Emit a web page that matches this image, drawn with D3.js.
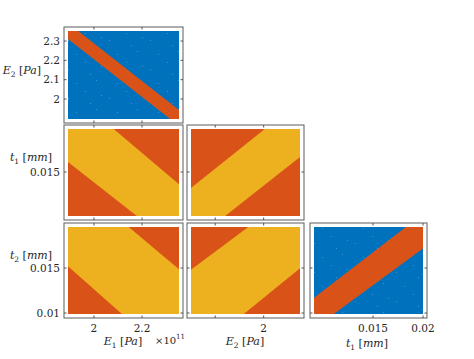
<!DOCTYPE html>
<html>
<head>
<meta charset="utf-8">
<script src="https://cdn.jsdelivr.net/npm/d3@7"></script>
<style>
  html, body { margin: 0; padding: 0; background: #fff; }
  svg { display: block; }
</style>
</head>
<body>
<svg id="chart" width="474" height="359"></svg>
<script>
// ---------- data ----------
// axis domains (data extents) for each variable, as seen in each column / row
const e1Domain     = [1.892, 2.354];    // E1 [Pa] x1e11 (column 1)
const e2RowDomain  = [1.8965, 2.352];   // E2 [Pa] (row 1)
const e2ColDomain  = [1.70, 2.15];      // E2 [Pa] (column 2)
const t1RowDomain  = [0.00988, 0.0200]; // t1 [mm] (row 2)
const t1ColDomain  = [0.0091, 0.0200];  // t1 [mm] (column 3)
const t2RowDomain  = [0.00989, 0.01956];// t2 [mm] (row 3)

// tick values and tick labels
const e1Ticks = [2.0, 2.2];                 const e1Labels = ["2", "2.2"];
const e2RowTicks = [2.0, 2.1, 2.2, 2.3];    const e2RowLabels = ["2", "2.1", "2.2", "2.3"];
const e2ColTicks = [1.8, 2.0];              const e2ColLabels = ["", "2"];
const t1RowTicks = [0.015];                 const t1RowLabels = ["0.015"];
const t1ColTicks = [0.015, 0.02];           const t1ColLabels = ["0.015", "0.02"];
const t2RowTicks = [0.01, 0.015];           const t2RowLabels = ["0.01", "0.015"];

// region boundaries (polygons in data coordinates) of the band in each panel
const bandE1E2 = [[1.880, 2.360], [1.926, 2.360], [2.360, 1.937], [2.360, 1.890], [2.324, 1.890], [1.880, 2.322]];
const bandE1T1 = [[1.880, 0.0205], [2.061, 0.0205], [2.360, 0.01343], [2.360, 0.0095], [2.196, 0.0095], [1.880, 0.01642]];
const bandE1T2 = [[1.880, 0.0200], [2.125, 0.0200], [2.360, 0.01473], [2.360, 0.0095], [2.133, 0.0095], [1.880, 0.01548]];
const bandE2T1 = [[1.69, 0.01291], [2.027, 0.0205], [2.16, 0.0205], [2.16, 0.01697], [1.824, 0.0095], [1.69, 0.0095]];
const bandE2T2 = [[1.69, 0.01460], [1.958, 0.0200], [2.16, 0.0200], [2.16, 0.01518], [1.900, 0.0095], [1.69, 0.0095]];
const bandT1T2 = [[0.0088, 0.01144], [0.0188, 0.0200], [0.0205, 0.0200], [0.0205, 0.01758], [0.0106, 0.0095], [0.0088, 0.0095]];

// ---------- layout ----------
const FONT = "DejaVu Serif, serif";
const colors = { blue: "#0072BD", orange: "#D95319", yellow: "#EDB120" };
const colX = [[68, 179], [191, 300], [314, 423]];
const rowY = [[31, 119], [129, 216], [227, 314]];
const pad = 4;

const svg = d3.select("#chart");
const defs = svg.append("defs");

// faint speckle texture of the dense scatter
const pat = defs.append("pattern").attr("id", "speck").attr("patternUnits", "userSpaceOnUse")
  .attr("width", 41).attr("height", 29);
[[3, 4], [27, 11], [14, 22], [35, 25], [19, 8], [8, 16]].forEach(d =>
  pat.append("rect").attr("x", d[0]).attr("y", d[1]).attr("width", 1).attr("height", 1)
    .attr("fill", "#ffffff").attr("fill-opacity", 0.25));

const xScales = [
  d3.scaleLinear().domain(e1Domain).range(colX[0]),
  d3.scaleLinear().domain(e2ColDomain).range(colX[1]),
  d3.scaleLinear().domain(t1ColDomain).range(colX[2])
];
const yScales = [
  d3.scaleLinear().domain(e2RowDomain).range([rowY[0][1], rowY[0][0]]),
  d3.scaleLinear().domain(t1RowDomain).range([rowY[1][1], rowY[1][0]]),
  d3.scaleLinear().domain(t2RowDomain).range([rowY[2][1], rowY[2][0]])
];
const xTicks = [[e1Ticks, e1Labels], [e2ColTicks, e2ColLabels], [t1ColTicks, t1ColLabels]];
const yTicks = [[e2RowTicks, e2RowLabels], [t1RowTicks, t1RowLabels], [t2RowTicks, t2RowLabels]];

const panels = [
  { r: 0, c: 0, bg: colors.blue,   band: bandE1E2, bandColor: colors.orange },
  { r: 1, c: 0, bg: colors.orange, band: bandE1T1, bandColor: colors.yellow },
  { r: 2, c: 0, bg: colors.orange, band: bandE1T2, bandColor: colors.yellow },
  { r: 1, c: 1, bg: colors.orange, band: bandE2T1, bandColor: colors.yellow },
  { r: 2, c: 1, bg: colors.orange, band: bandE2T2, bandColor: colors.yellow },
  { r: 2, c: 2, bg: colors.blue,   band: bandT1T2, bandColor: colors.orange }
];

panels.forEach((p, i) => {
  const xs = xScales[p.c], ys = yScales[p.r];
  const [x0, x1] = xs.range();
  const [y1, y0] = ys.range();
  const g = svg.append("g");
  const clipId = "clip" + i;
  defs.append("clipPath").attr("id", clipId)
    .append("rect").attr("x", x0).attr("y", y0).attr("width", x1 - x0).attr("height", y1 - y0);

  const data = g.append("g").attr("clip-path", `url(#${clipId})`);
  const bgRect = () => data.append("rect")
    .attr("x", xs(xs.domain()[0])).attr("y", ys(ys.domain()[1]))
    .attr("width", xs(xs.domain()[1]) - xs(xs.domain()[0]))
    .attr("height", ys(ys.domain()[0]) - ys(ys.domain()[1]));
  bgRect().attr("fill", p.bg);
  if (p.bg === colors.blue) bgRect().attr("fill", "url(#speck)");
  const line = d3.line().x(d => xs(d[0])).y(d => ys(d[1])).curve(d3.curveLinearClosed);
  data.append("path").attr("d", line(p.band)).attr("fill", p.bandColor);

  // frame
  const fx0 = x0 - pad, fx1 = x1 + pad, fy0 = y0 - pad, fy1 = y1 + pad;
  g.append("rect").attr("x", fx0).attr("y", fy0)
    .attr("width", fx1 - fx0).attr("height", fy1 - fy0)
    .attr("fill", "none").attr("stroke", "#6b6b6b").attr("stroke-width", 1.1);

  // ticks (inward, all sides)
  const tl = 2.5;
  xTicks[p.c][0].forEach(t => {
    const x = xs(t);
    g.append("line").attr("x1", x).attr("x2", x).attr("y1", fy1).attr("y2", fy1 - tl).attr("stroke", "#555");
    g.append("line").attr("x1", x).attr("x2", x).attr("y1", fy0).attr("y2", fy0 + tl).attr("stroke", "#555");
  });
  yTicks[p.r][0].forEach(t => {
    const y = ys(t);
    g.append("line").attr("x1", fx0).attr("x2", fx0 + tl).attr("y1", y).attr("y2", y).attr("stroke", "#555");
    g.append("line").attr("x1", fx1).attr("x2", fx1 - tl).attr("y1", y).attr("y2", y).attr("stroke", "#555");
  });

  // tick labels on outer panels
  if (p.c === 0) {
    yTicks[p.r][0].forEach((t, k) => {
      svg.append("text").attr("x", fx0 - 4).attr("y", ys(t)).attr("dy", "0.35em")
        .attr("text-anchor", "end").attr("font-size", 10.5).attr("fill", "#262626")
        .style("font-family", FONT)
        .text(yTicks[p.r][1][k]);
    });
  }
  if (p.r === 2) {
    xTicks[p.c][0].forEach((t, k) => {
      svg.append("text").attr("x", xs(t)).attr("y", 332)
        .attr("text-anchor", "middle").attr("font-size", 10.5).attr("fill", "#262626")
        .style("font-family", FONT)
        .text(xTicks[p.c][1][k]);
    });
  }
});

// axis labels: italic symbol, subscript, unit in brackets
function label(x, y, sym, sub, unit, anchor) {
  const t = svg.append("text").attr("x", x).attr("y", y).attr("font-size", 11)
    .attr("text-anchor", anchor || "middle").attr("fill", "#262626").style("font-family", FONT);
  t.append("tspan").attr("font-style", "italic").text(sym);
  t.append("tspan").attr("font-size", 7.5).attr("dy", 2.5).text(sub);
  t.append("tspan").attr("dy", -2.5).text(" [");
  t.append("tspan").attr("font-style", "italic").text(unit);
  t.append("tspan").text("]");
  return t;
}
label(41, 74, "E", "2", "Pa", "end");
label(31, 161, "t", "1", "mm");
label(31, 259, "t", "2", "mm");
label(123, 345, "E", "1", "Pa");
label(245, 345, "E", "2", "Pa");
label(367, 347, "t", "1", "mm");

// exponent
const ex = svg.append("text").attr("x", 155).attr("y", 344).attr("font-size", 10)
  .attr("fill", "#262626").style("font-family", FONT);
ex.append("tspan").text("×10");
ex.append("tspan").attr("font-size", 7).attr("dy", -5).text("11");
</script>
</body>
</html>
